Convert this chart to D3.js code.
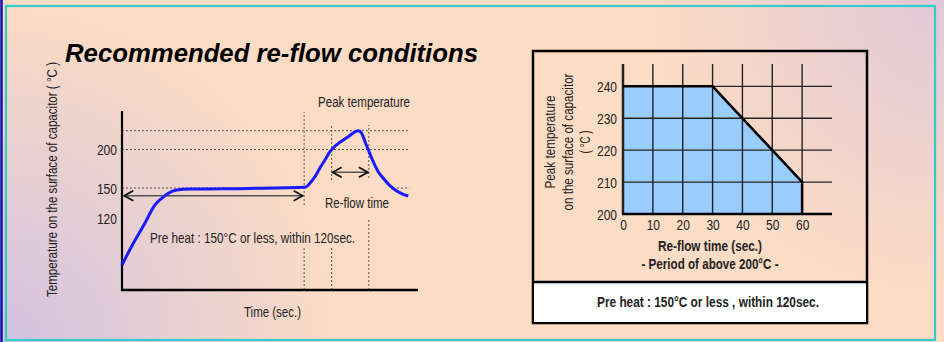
<!DOCTYPE html>
<html><head><meta charset="utf-8">
<script src="https://cdn.jsdelivr.net/npm/d3@7"></script>
<style>
html,body{margin:0;padding:0;background:#fcdcc4;}
svg{display:block;}
text{font-family:"Liberation Sans",Arial,sans-serif;fill:#222;}
</style></head>
<body><svg id="c" width="944" height="342"></svg>
<script>
// ---------- data ----------
const titleText = "Recommended re-flow conditions";
// Left: schematic profile (time s, temperature °C)
const profileTime = [0, 7, 14.5, 21.7, 26.2, 30.5, 36, 44.8, 84, 120.6, 123.8, 127.1, 130.4, 133.7, 137, 139.9, 143.6, 149.1, 154.6, 155.7, 157.9, 160.1, 162.3, 165.5, 168.8, 172.1, 176.5, 181, 185.3, 188.6];
const profileTemp = [74.3, 94.3, 113.4, 133, 139.7, 144.7, 148, 149, 149.6, 150.9, 156.1, 164.7, 176, 186.4, 197.1, 203.6, 209.4, 216.6, 224, 224.4, 221, 210.1, 199.4, 184.2, 171.2, 162.6, 153, 147, 143.7, 142];
const leftTicks = [120, 150, 200];
const peakTemp = 224.4;
const preheatEnd = 120, reflowStart = 138.1, reflowEnd = 162.6;
const leftLabels = {y:"Temperature on the surface of capacitor ( °C )", x:"Time (sec.)", peak:"Peak temperature", reflow:"Re-flow time", pre:"Pre heat : 150°C or less, within 120sec."};
// Right: peak temp vs reflow time
const reflowTime = [0, 0, 30, 60, 60];
const reflowPeak = [200, 240, 240, 210, 200];
const rightXTicks = [0, 10, 20, 30, 40, 50, 60];
const rightYTicks = [200, 210, 220, 230, 240];
const rightYTitle = ["Peak temperature", "on the surface of capacitor", "( °C )"];
const rightXTitle = ["Re-flow time (sec.)", "- Period of above 200°C -"];
const noteText = "Pre heat : 150°C or less ,  within 120sec.";

const svg = d3.select("#c");
const defs = svg.append("defs");
function condense(sel, f){ sel.each(function(){ const L=this.getComputedTextLength(); d3.select(this).attr("textLength",L*f).attr("lengthAdjust","spacingAndGlyphs"); }); return sel; }
function fit(sel, w){ sel.attr("textLength",w).attr("lengthAdjust","spacingAndGlyphs"); return sel; }

// ---------- background ----------
const rg1 = defs.append("radialGradient").attr("id","bl").attr("cx",0).attr("cy",342).attr("r",340).attr("gradientUnits","userSpaceOnUse");
rg1.append("stop").attr("offset",0).attr("stop-color","#d2c2e2").attr("stop-opacity",1);
rg1.append("stop").attr("offset",1).attr("stop-color","#d2c2e2").attr("stop-opacity",0);
const rg2 = defs.append("radialGradient").attr("id","tr").attr("cx",944).attr("cy",0).attr("r",300).attr("gradientUnits","userSpaceOnUse");
rg2.append("stop").attr("offset",0).attr("stop-color","#e2c8d8").attr("stop-opacity",1);
rg2.append("stop").attr("offset",1).attr("stop-color","#e2c8d8").attr("stop-opacity",0);
svg.append("rect").attr("width",944).attr("height",342).attr("fill","#fcdcc4");
svg.append("rect").attr("width",944).attr("height",342).attr("fill","url(#bl)");
svg.append("rect").attr("width",944).attr("height",342).attr("fill","url(#tr)");
svg.append("rect").attr("x",6).attr("y",6).attr("width",929).attr("height",334).attr("fill","none").attr("stroke","#33cccc").attr("stroke-width",2.2);
svg.append("line").attr("x1",1.5).attr("x2",1.5).attr("y1",0).attr("y2",342).attr("stroke","#1010b0").attr("stroke-width",2.5);

// title
fit(svg.append("text").attr("x",65).attr("y",62).text(titleText)
  .style("font-weight","bold").style("font-style","italic")
  .style("font-size","26px").style("fill","#000"),413);

// ---------- left chart ----------
const xL = d3.scaleLinear().domain([0,195]).range([122,418]);
const yL = d3.scaleLinear().domain([50,120,150,250]).range([290,218,188,111]);
const gL = svg.append("g");
function dline(x1,y1,x2,y2){gL.append("line").attr("x1",x1).attr("y1",y1).attr("x2",x2).attr("y2",y2)
  .attr("stroke","#555").attr("stroke-width",1).attr("stroke-dasharray","2,2");}
// horizontal guides
dline(xL(0), yL(peakTemp), xL(189.3), yL(peakTemp));
dline(xL(0), yL(200), xL(189.3), yL(200));
dline(xL(0), yL(150), xL(preheatEnd), yL(150));
dline(xL(181.2), yL(150), xL(189.3), yL(150));
// vertical guides (segments with gaps around text)
[[preheatEnd,50,90.8],[preheatEnd,133,248.5],[reflowStart,50,90.8],[reflowStart,160.4,231.8],[reflowEnd,50,120],[reflowEnd,163,231.8]]
  .forEach(s=>dline(xL(s[0]),yL(s[1]),xL(s[0]),yL(s[2])));
// axes
const gy = gL.append("g").attr("transform",`translate(${xL(0)},0)`).call(d3.axisLeft(yL).tickValues(leftTicks).tickSize(0).tickPadding(5));
gy.select(".domain").remove();
gy.selectAll("text").style("font-size","14px").style("font-family","'Liberation Sans',Arial,sans-serif").style("fill","#222").attr("dy","0.36em");
condense(gy.selectAll("text"),0.86);
gL.append("line").attr("x1",xL(0)).attr("x2",xL(0)).attr("y1",yL(250)).attr("y2",yL(50)+1).attr("stroke","#000").attr("stroke-width",2.2);
gL.append("line").attr("x1",xL(0)-1).attr("x2",xL(195)).attr("y1",yL(50)).attr("y2",yL(50)).attr("stroke","#000").attr("stroke-width",2.5);
// arrows
const mk = defs.append("marker").attr("id","ah").attr("viewBox","-10 -6 12 12").attr("refX",0).attr("refY",0)
  .attr("markerWidth",12).attr("markerHeight",12).attr("markerUnits","userSpaceOnUse").attr("orient","auto-start-reverse");
mk.append("path").attr("d","M-9,-5 L0,0 L-9,5").attr("fill","none").attr("stroke","#111").attr("stroke-width",1.8);
gL.append("line").attr("x1",xL(1.5)).attr("x2",xL(119)).attr("y1",yL(142.3)).attr("y2",yL(142.3)).attr("stroke","#555").attr("stroke-width",1.5)
  .attr("marker-start","url(#ah)").attr("marker-end","url(#ah)");
gL.append("line").attr("x1",xL(reflowStart)+1).attr("x2",xL(reflowEnd)-1).attr("y1",yL(170.4)).attr("y2",yL(170.4)).attr("stroke","#555").attr("stroke-width",1.5)
  .attr("marker-start","url(#ah)").attr("marker-end","url(#ah)");
// profile curve
const prof = profileTime.map((t,i)=>[t,profileTemp[i]]);
gL.append("path").datum(prof).attr("fill","none").attr("stroke","#1a1aff").attr("stroke-width",3).attr("stroke-linejoin","round")
  .attr("d",d3.line().x(d=>xL(d[0])).y(d=>yL(d[1])).curve(d3.curveMonotoneX));
// labels
const fs = "14px";
fit(gL.append("text").attr("x",318).attr("y",107).text(leftLabels.peak).style("font-size",fs),92);
fit(gL.append("text").attr("x",325).attr("y",208).text(leftLabels.reflow).style("font-size",fs),64);
fit(gL.append("text").attr("x",150).attr("y",243).text(leftLabels.pre).style("font-size",fs),205);
fit(gL.append("text").attr("x",244).attr("y",317).text(leftLabels.x).style("font-size",fs),57);
fit(gL.append("text").attr("transform","translate(57,297) rotate(-90)").text(leftLabels.y).style("font-size",fs),235);

// ---------- right chart ----------
const gR = svg.append("g");
gR.append("rect").attr("x",533).attr("y",51).attr("width",334).attr("height",272).attr("fill","none").attr("stroke","#000").attr("stroke-width",2.5);
gR.append("rect").attr("x",534).attr("y",282).attr("width",332).attr("height",40).attr("fill","#fff");
gR.append("line").attr("x1",533).attr("x2",867).attr("y1",282).attr("y2",282).attr("stroke","#000").attr("stroke-width",2.5);
const xR = d3.scaleLinear().domain([0,70]).range([623,832]);
const yR = d3.scaleLinear().domain([200,247]).range([214,64]);
const poly = reflowTime.map((t,i)=>[t,reflowPeak[i]]);
const lineR = d3.line().x(d=>xR(d[0])).y(d=>yR(d[1]));
gR.append("path").datum(poly).attr("fill","#99ccff").attr("stroke","none").attr("d",d=>lineR(d)+"Z");
// grid
rightXTicks.forEach(t=>gR.append("line").attr("x1",xR(t)).attr("x2",xR(t)).attr("y1",yR(247)).attr("y2",yR(200)).attr("stroke","#222").attr("stroke-width",t===0?2.5:1.4));
rightYTicks.filter(v=>v>200).forEach(v=>gR.append("line").attr("x1",xR(0)).attr("x2",xR(70)).attr("y1",yR(v)).attr("y2",yR(v)).attr("stroke","#222").attr("stroke-width",1.4));
gR.append("path").datum(poly.slice(1)).attr("fill","none").attr("stroke","#000").attr("stroke-width",2.5).attr("d",lineR);
gR.append("line").attr("x1",xR(0)-1).attr("x2",xR(70)).attr("y1",yR(200)).attr("y2",yR(200)).attr("stroke","#000").attr("stroke-width",2.5);
// axes labels
const axRY = gR.append("g").attr("transform",`translate(${xR(0)},0)`).call(d3.axisLeft(yR).tickValues(rightYTicks).tickSize(0).tickPadding(6));
axRY.select(".domain").remove();
const axRX = gR.append("g").attr("transform",`translate(0,${yR(200)})`).call(d3.axisBottom(xR).tickValues(rightXTicks).tickSize(0).tickPadding(5));
axRX.select(".domain").remove();
gR.selectAll(".tick text").style("font-size","15px").style("font-family","'Liberation Sans',Arial,sans-serif").style("fill","#222");
axRY.selectAll("text").attr("dy","0.36em");
condense(gR.selectAll(".tick text"),0.8);
const rYW = [93, 137, 23];
rightYTitle.forEach((s,i)=>fit(gR.append("text").attr("transform",`translate(${555+i*17.5},142) rotate(-90)`).attr("text-anchor","middle").text(s).style("font-size","14.5px"),rYW[i]));
const rXW = [104, 137];
rightXTitle.forEach((s,i)=>fit(gR.append("text").attr("x",710).attr("y",251+i*17.5).attr("text-anchor","middle").text(s).style("font-size","14.5px").style("font-weight","bold"),rXW[i]));
fit(gR.append("text").attr("x",708).attr("y",307).attr("text-anchor","middle").text(noteText).style("font-size","14.5px").style("font-weight","bold"),222);
</script></body></html>
